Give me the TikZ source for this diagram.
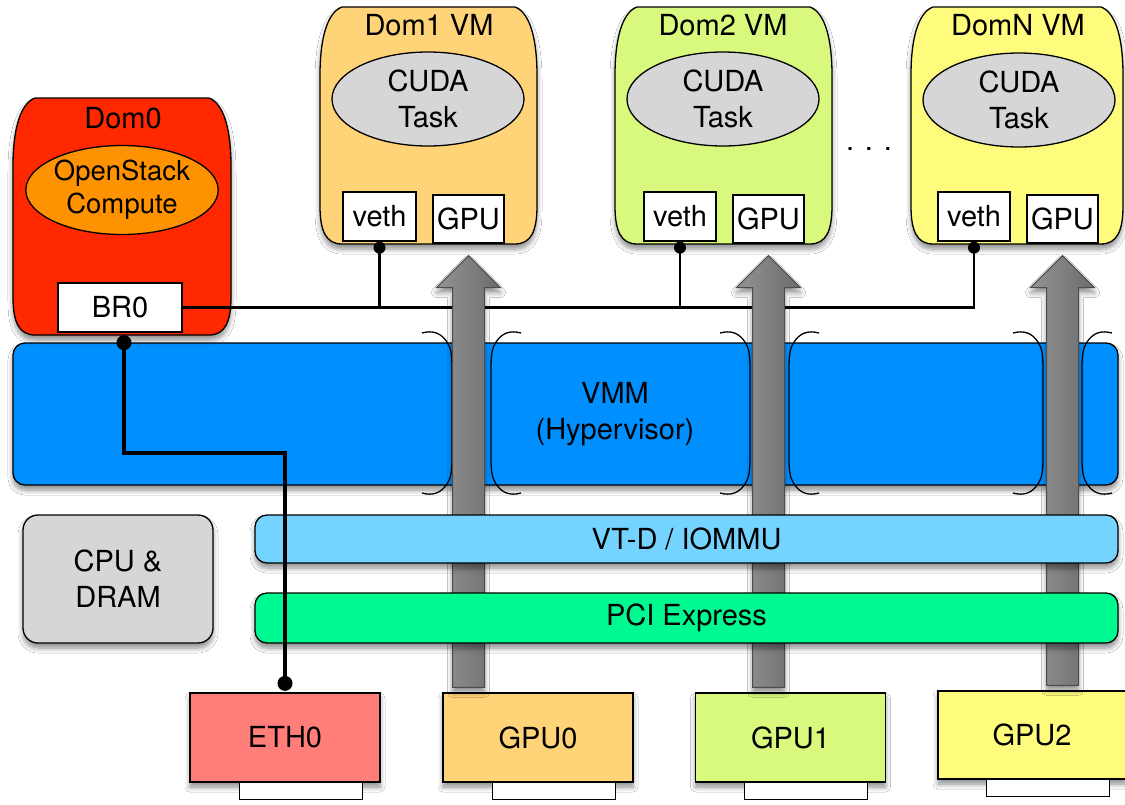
\documentclass[tikz,border=0pt]{standalone}
\usepackage{fontspec}
\setmainfont{TeX Gyre Heros}
\usetikzlibrary{calc,shapes.geometric,shadows.blur}
\definecolor{domzero}{RGB}{255,40,0}
\definecolor{osc}{RGB}{255,146,0}
\definecolor{domone}{RGB}{255,212,121}
\definecolor{domtwo}{RGB}{216,249,126}
\definecolor{domn}{RGB}{255,251,125}
\definecolor{cuda}{RGB}{214,214,214}
\definecolor{vmm}{RGB}{0,143,255}
\definecolor{vtd}{RGB}{116,212,255}
\definecolor{pci}{RGB}{0,250,146}
\definecolor{eth}{RGB}{255,126,121}
\tikzset{
  every node/.style={font=\fontsize{29}{36}\selectfont},
  olin/.style={draw=black, line width=1.3pt},
  shadowed/.style={blur shadow={shadow xshift=0pt, shadow yshift=-5pt, shadow blur radius=5pt, shadow blur steps=6, shadow opacity=45}},
  whitebox/.style={olin, fill=white, inner sep=0pt},
  barstyle/.style={olin, rounded corners=12pt, inner sep=0pt, shadowed},
  cardstyle/.style={olin, inner sep=0pt, minimum width=190pt, minimum height=89pt, shadowed},
  tabstyle/.style={draw=black, line width=1pt, fill=white},
  taskstyle/.style={ellipse, olin, fill=cuda, minimum width=192pt, minimum height=94pt, inner sep=0pt, align=center},
  wirestyle/.style={line width=2.6pt},
  bigwirestyle/.style={line width=4pt},
  cutstyle/.style={line width=1.3pt},
  arrowstyle/.style={draw=black!70, line width=1pt, left color=black!42, middle color=black!27, right color=black!58, shadowed},
}
\newcommand\domshape[6]{%
  \draw[olin, fill=#6, shadowed] ({#2+22},#4) -- ({#3-22},#4)
    .. controls ({#3-6},{#4+6}) and ({#3},{#4+35}) .. ({#3},{#4+68})
    -- ({#3},{#5-38}) .. controls ({#3},{#5-13}) and ({#3-6},{#5}) .. ({#3-22},{#5})
    -- ({#2+22},{#5}) .. controls ({#2+6},{#5}) and ({#2},{#5-13}) .. ({#2},{#5-38})
    -- ({#2},{#4+68}) .. controls ({#2},{#4+35}) and ({#2+6},{#4+6}) .. ({#2+22},#4) -- cycle;
  \coordinate (#1) at ({(#2+#3)/2},{(#4+#5)/2});}
\newcommand\cutpair[1]{%
  \draw[cutstyle] ({#1-49},333) .. controls ({#1-38},330) and ({#1-30},333) .. ({#1-24},342)
    .. controls ({#1-20},348) and ({#1-19},355) .. ({#1-19},368)
    -- ({#1-19},458) .. controls ({#1-19},471) and ({#1-20},478) .. ({#1-24},484)
    .. controls ({#1-30},493) and ({#1-38},496) .. ({#1-49},493);
  \draw[cutstyle] ({#1+50},333) .. controls ({#1+39},330) and ({#1+31},333) .. ({#1+25},342)
    .. controls ({#1+21},348) and ({#1+20},355) .. ({#1+20},368)
    -- ({#1+20},458) .. controls ({#1+20},471) and ({#1+21},478) .. ({#1+25},484)
    .. controls ({#1+31},493) and ({#1+39},496) .. ({#1+50},493);}
\newcommand\gpuarrow[2]{%
  \path[arrowstyle] let \p1=([yshift=5pt]#1.north), \p2=([yshift=-12pt]#2.south) in
    (\x2-16pt,\y1) -- (\x2-16pt,\y2-32pt) -- (\x2-32pt,\y2-32pt) -- (\x2,\y2)
    -- (\x2+32pt,\y2-32pt) -- (\x2+16pt,\y2-32pt) -- (\x2+16pt,\y1) -- cycle;}
\begin{document}
\begin{tikzpicture}[x=1pt,y=-1pt]
\fill[white] (0,0) rectangle (1125,804);
\useasboundingbox (0,0) rectangle (1125,804);

% cards
\node[cardstyle, fill=eth] (eth0) at (285,737.5) {ETH0};
\node[cardstyle, fill=domone] (gpu0) at (538,737.5) {GPU0};
\node[cardstyle, fill=domtwo] (gpu1) at (790.5,737.5) {GPU1};
\node[cardstyle, fill=domn, minimum width=188pt, minimum height=88pt] (gpu2) at (1032,735) {GPU2};
\foreach \c in {eth0,gpu0,gpu1,gpu2}{
  \draw[tabstyle] ($(\c.south)+(-46,0)$) rectangle ($(\c.south)+(77,17)$);
}

% hypervisor bar
\node[barstyle, fill=vmm, minimum width=1105pt, minimum height=142pt] (vmm) at (565.5,414) {};
\node[align=center] (vmmtext) at (615,414) {VMM\\(Hypervisor)};

% cut marks
\cutpair{471}\cutpair{769}\cutpair{1062}

% Dom0
\domshape{dom0}{13}{231}{98}{335}{domzero}
\node (dom0lbl) at (123,118) {Dom0};
\node[ellipse, olin, fill=osc, minimum width=190pt, minimum height=89pt, inner sep=0pt, align=center, font=\fontsize{27.5}{33}\selectfont] (osc) at (122,190) {OpenStack\\Compute};
\node[whitebox, minimum width=124pt, minimum height=49pt] (br0) at (120,307.5) {BR0};

% Dom1
\domshape{dom1}{320}{537}{7}{244}{domone}
\node (dom1lbl) at (429,25) {Dom1 VM};
\node[taskstyle] (task1) at (428,99) {CUDA\\Task};
\node[whitebox, minimum width=73pt, minimum height=49pt] (veth1) at (379.5,216.5) {veth};
\node[whitebox, minimum width=71pt, minimum height=48pt] (vgpu1) at (468.5,219) {GPU};

% Dom2
\domshape{dom2}{615}{832}{7}{244}{domtwo}
\node (dom2lbl) at (723,25) {Dom2 VM};
\node[taskstyle] (task2) at (723,99) {CUDA\\Task};
\node[whitebox, minimum width=72pt, minimum height=49pt] (veth2) at (680,216.5) {veth};
\node[whitebox, minimum width=71pt, minimum height=48pt] (vgpu2) at (768.5,219) {GPU};

% DomN
\domshape{domN}{911}{1123}{7}{244}{domn}
\node (domNlbl) at (1018,25) {DomN VM};
\node[taskstyle] (task3) at (1019,100) {CUDA\\Task};
\node[whitebox, minimum width=72pt, minimum height=49pt] (veth3) at (974,216.5) {veth};
\node[whitebox, minimum width=71pt, minimum height=48pt] (vgpu3) at (1062.5,219) {GPU};

\node[anchor=base] (dots) at (869,150) {. . .};

% thin wires
\draw[wirestyle] (br0.east) -| ([yshift=-6pt]veth3.south);
\draw[wirestyle] ([yshift=-6pt]veth1.south) -- (veth1.south |- br0.east);
\draw[wirestyle] ([yshift=-6pt]veth2.south) -- (veth2.south |- br0.east);
\foreach \v in {veth1,veth2,veth3}{
  \fill ([yshift=-6pt]\v.south) circle (6pt);
}

% GPU pass-through arrows
\gpuarrow{gpu0}{vgpu1}
\gpuarrow{gpu1}{vgpu2}
\gpuarrow{gpu2}{vgpu3}

% IOMMU, PCIe bars, CPU
\node[barstyle, fill=vtd, minimum width=863pt, minimum height=48pt] (vtd) at (686.5,539) {VT-D / IOMMU};
\node[barstyle, fill=pci, minimum width=863pt, minimum height=50pt] (pcie) at (686.5,618) {PCI Express};
\node[barstyle, rounded corners=15pt, fill=cuda, minimum width=190pt, minimum height=128pt, align=center] (cpu) at (118,579) {CPU \&\\DRAM};

% thick wire
\coordinate (brdot) at ([xshift=4pt,yshift=-10pt]br0.south);
\coordinate (ethdot) at ([yshift=9pt]eth0.north);
\coordinate (wirebend) at (200,453);
\draw[bigwirestyle] (brdot) |- (wirebend) -| (ethdot);
\fill (brdot) circle (7.5pt);
\fill (ethdot) circle (7.5pt);
\end{tikzpicture}
\end{document}
